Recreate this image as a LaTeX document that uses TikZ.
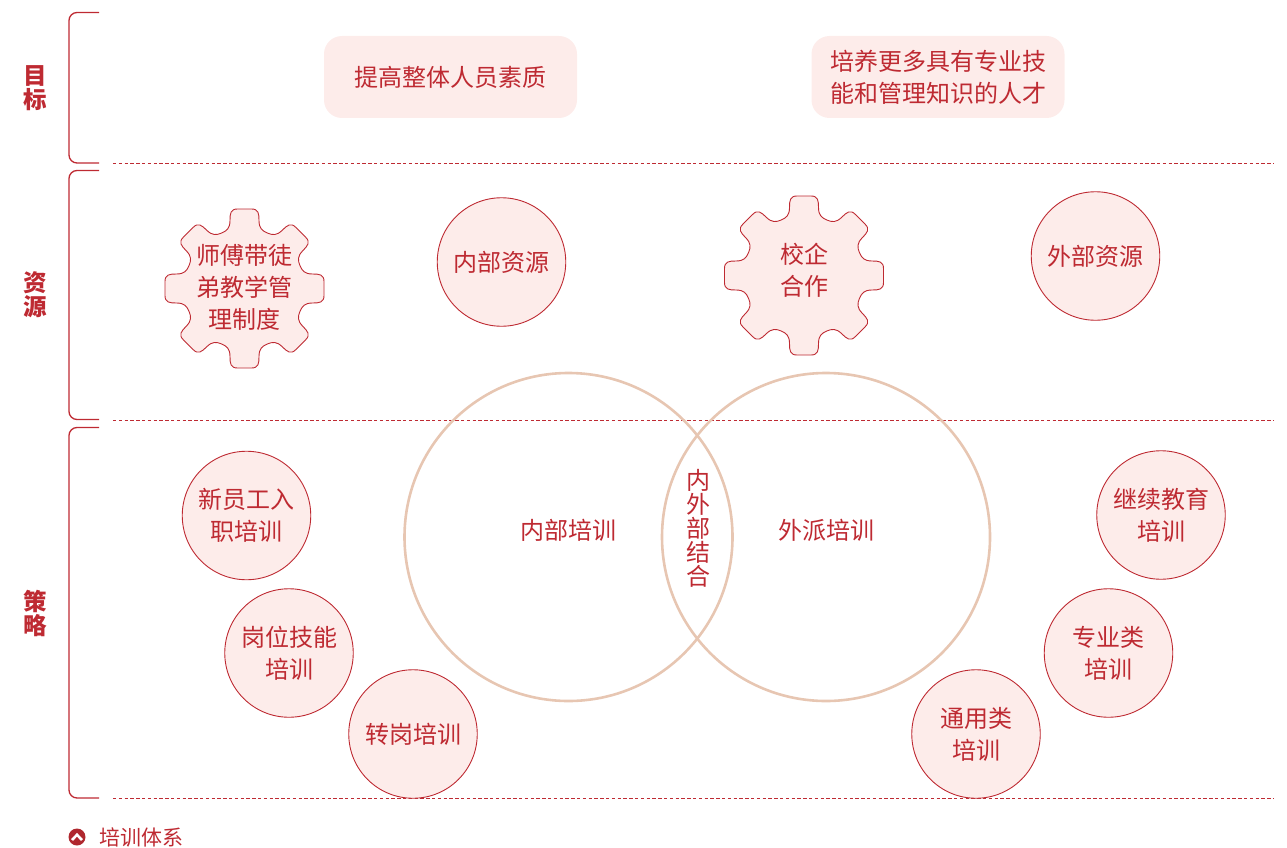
\documentclass[tikz,border=0pt]{standalone}
\usepackage{fontspec}
\setmainfont{Noto Sans CJK SC}
\definecolor{ink}{HTML}{BE2A32}
\definecolor{tint}{HTML}{FDECEA}
\definecolor{ringc}{HTML}{E7C6B2}
\gdef\gearacc{}
\newcommand{\addpt}[4]{%
  \pgfmathsetmacro\rx{#3*cos(#2)-#4*sin(#2)}%
  \pgfmathsetmacro\ry{#3*sin(#2)+#4*cos(#2)}%
  \xdef\gearacc{\gearacc #1 (\rx,\ry)}}
\foreach \a in {0,45,...,315}{%
  \addpt{.. controls}{\a}{-18}{-57.5}\addpt{and}{\a}{-14.5}{-60}\addpt{..}{\a}{-14.5}{-68}%
  \addpt{.. controls}{\a}{-14.5}{-75}\addpt{and}{\a}{-14}{-79.5}\addpt{..}{\a}{-7}{-79.5}%
  \addpt{--}{\a}{7}{-79.5}%
  \addpt{.. controls}{\a}{14}{-79.5}\addpt{and}{\a}{14.5}{-75}\addpt{..}{\a}{14.5}{-68}%
  \addpt{.. controls}{\a}{14.5}{-60}\addpt{and}{\a}{18}{-57.5}\addpt{..}{\a}{23}{-55.4}%
}
\tikzset{
  x=1pt,y=-1pt,
  txt/.style={text=ink,align=center,font=\fontsize{24}{32}\selectfont,inner sep=0pt},
  disc/.style={circle,draw=ink,fill=tint,line width=.9pt,minimum size=128.5pt,txt},
  discb/.style={disc,text depth=0pt},
  goal/.style={rounded corners=18pt,fill=tint,minimum width=253pt,minimum height=82pt,txt},
  ring/.style={circle,draw=ringc,line width=2.6pt,minimum size=328pt,inner sep=0pt},
  gearshape/.style={draw=ink,fill=tint,line width=.9pt},
  bracketline/.style={draw=ink,line width=1.3pt,rounded corners=8pt},
  sepline/.style={draw=ink,line width=1pt,dash pattern=on 3.4pt off 2.4pt},
  side/.style={text=ink,align=center,font=\fontsize{23.5}{24}\selectfont\bfseries,inner sep=0pt},
}
\begin{document}
\begin{tikzpicture}
\useasboundingbox (0,0) rectangle (1287,848);
% brackets
\coordinate (b1a) at (99,12.5); \coordinate (b1b) at (99,163);
\coordinate (b2a) at (99,170.5); \coordinate (b2b) at (99,419.5);
\coordinate (b3a) at (99,427.5); \coordinate (b3b) at (99,798);
\draw[bracketline] (b1a) -| (69,88) |- (b1b);
\draw[bracketline] (b2a) -| (69,295) |- (b2b);
\draw[bracketline] (b3a) -| (69,612) |- (b3b);
% separators
\coordinate (s1a) at (113,163); \coordinate (s1b) at (1274,163);
\coordinate (s2a) at (113,420); \coordinate (s2b) at (1274,420);
\coordinate (s3a) at (113,798); \coordinate (s3b) at (1274,798);
\draw[sepline] (s1a) -- (s1b);
\draw[sepline] (s2a) -- (s2b);
\draw[sepline] (s3a) -- (s3b);
% side labels
\node[side] (l1) at (35,88) {目\\标};
\node[side] (l2) at (35,295) {资\\源};
\node[side] (l3) at (35,613) {策\\略};
% goals
\node[goal] (g1) at (450.5,77) {提高整体人员素质};
\node[goal] (g2) at (938,77) {培养更多具有专业技\\能和管理知识的人才};
% gears
\path[gearshape,shift={(244.5,288.5)}] (-23,-55.4) \gearacc -- cycle;
\node[txt] (gear1) at (244.5,287.5) {师傅带徒\\弟教学管\\理制度};
\path[gearshape,shift={(804,275.5)}] (-23,-55.4) \gearacc -- cycle;
\node[txt] (gear2) at (804,270) {校企\\合作};
% resources
\node[disc] (r1) at (501.5,262) {内部资源};
\node[disc] (r2) at (1095.5,256) {外部资源};
% venn
\node[ring] (v1) at (568.5,537) {};
\node[ring] (v2) at (826,537) {};
\node[txt] (v1t) at (568.5,530.5) {内部培训};
\node[txt] (v2t) at (826,530.5) {外派培训};
\node[txt,font=\fontsize{24}{24}\selectfont] (v3t) at (698,528) {内\\外\\部\\结\\合};
% discs
\node[disc] (d1) at (246.5,515.5) {\raisebox{-1pt}{新员工入}\\\raisebox{-1pt}{职培训}};
\node[disc] (d2) at (289,653) {\raisebox{-1pt}{岗位技能}\\\raisebox{-1pt}{培训}};
\node[disc] (d3) at (413,734) {转岗培训};
\node[disc] (d4) at (976,734) {通用类\\培训};
\node[disc] (d5) at (1108.5,653) {\raisebox{-1pt}{专业类}\\\raisebox{-1pt}{培训}};
\node[disc] (d6) at (1161,515) {\raisebox{-1pt}{继续教育}\\\raisebox{-1pt}{培训}};
% legend
\node[circle,fill=ink!92!black,minimum size=17pt,inner sep=0pt] (ic) at (77,837) {};
\draw[white,line width=2.6pt] ([shift={(-5,3)}]ic.center) -- ([shift={(0,-2.2)}]ic.center) -- ([shift={(5,3)}]ic.center);
\node[txt,anchor=west,font=\fontsize{21}{24}\selectfont] (leg) at (99,837.5) {培训体系};
\end{tikzpicture}
\end{document}
